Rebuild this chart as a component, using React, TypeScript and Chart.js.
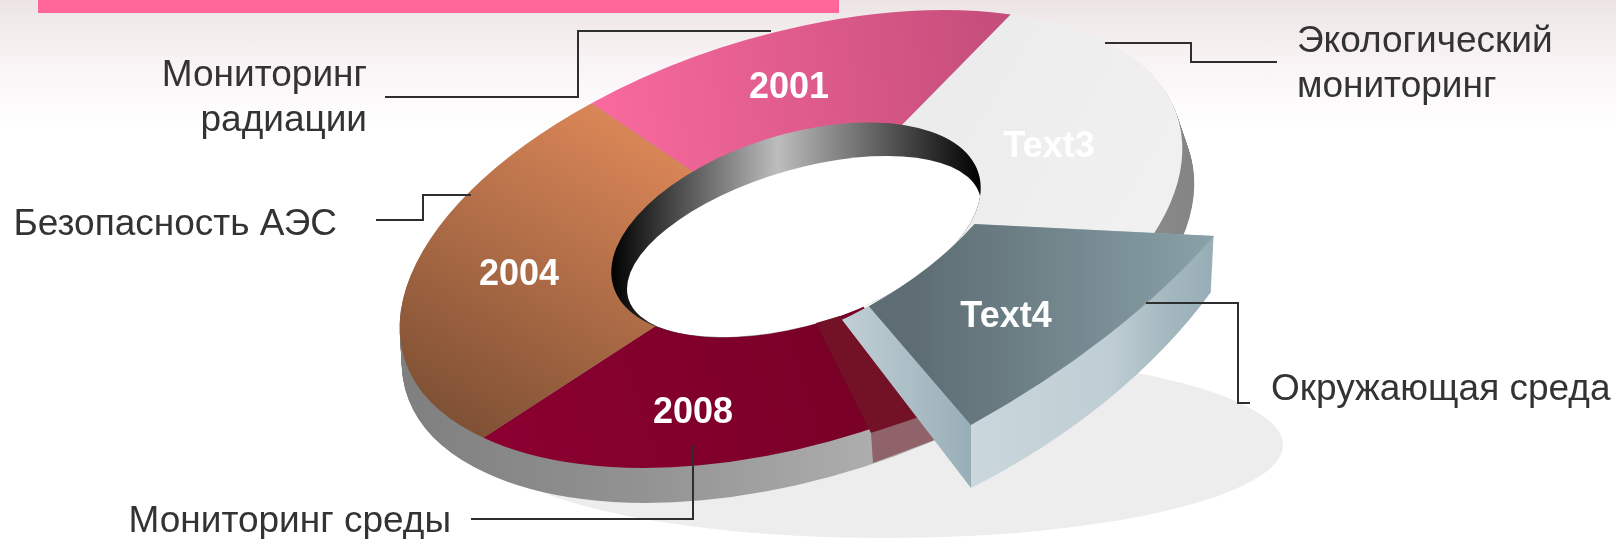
import React, { useEffect, useRef } from "react";
import { Chart, registerables } from "chart.js";

Chart.register(...registerables);

// ---- data (share of the ring, clockwise from the pink slice) ----
const categories = ["2001", "Text3", "Text4", "2008", "2004"];
const shares = [18, 24, 9.6, 21.3, 27.1];
const sliceColors = ["#E25C8C", "#EEEEEE", "#72868D", "#80002B", "#B06B47"];
const EXPLODED = 2;
const FRONT = 3;

// ---- layout ----
const W = 1616;
const H = 539;
const FONT = '"Liberation Sans", Arial, sans-serif';
const TEXT = "#333333";
type M = [number, number, number, number, number, number];
const faceM: M = [386.7, -120.4, 60.2, 193.3, 791, 238];
const frontM: M = [386.7, -118.3, 60.2, 197.2, 791, 238];
const holeM: M = [386.7, -120.4, 60.2, 193.3, 796, 230];
const holeFloorM: M = [177, -42.4, 0, 80, 804, 246.5];
const wedgeTop: M = [515.7, -199.2, 39.8, 276.1, 790.2, 214.7];
const wedgeBottom: M = [540.1, -157.9, 86.1, 360.4, 739, 185.3];
const WALL_DEPTH = 35;
const wallSkew = [0.06, 0.34, 0, 0.06, 0.06];
const HOLE_RATIO = 0.472;
const WEDGE_INNER = 0.435;

const sliceLabels = [
  { text: "2001", x: 789, y: 98 },
  { text: "Text3", x: 1049, y: 157 },
  { text: "Text4", x: 1006, y: 327 },
  { text: "2008", x: 693, y: 423 },
  { text: "2004", x: 519, y: 285 },
];
const callouts = [
  { lines: ["Мониторинг", "радиации"], x: 367, y: 86, align: "right" },
  { lines: ["Экологический", "мониторинг"], x: 1297, y: 52, align: "left" },
  { lines: ["Безопасность АЭС"], x: 337, y: 235, align: "right" },
  { lines: ["Окружающая среда"], x: 1271, y: 400, align: "left" },
  { lines: ["Мониторинг среды"], x: 451, y: 532, align: "right" },
];
const leaders = [
  [[385, 97], [578, 97], [578, 31], [771, 31]],
  [[1105, 43], [1191, 43], [1191, 62], [1277, 62]],
  [[376, 220], [423, 220], [423, 195], [471, 195]],
  [[1146, 303], [1238, 303], [1238, 403], [1250, 403]],
  [[693, 445], [693, 519], [471, 519]],
];

type Stop = [number, string];
const linear = (c: CanvasRenderingContext2D, x0: number, y0: number, x1: number, y1: number, stops: Stop[]) => {
  const g = c.createLinearGradient(x0, y0, x1, y1);
  stops.forEach(([o, col]) => g.addColorStop(o, col));
  return g;
};

const tiltPlugin = {
  id: "tilt3d",
  beforeDatasetsDraw(chart: any) {
    const ctx: CanvasRenderingContext2D = chart.ctx;
    const arcs: any[] = chart.getDatasetMeta(0).data;
    const R: number = arcs[0].outerRadius;
    const cx: number = arcs[0].x;
    const cy: number = arcs[0].y;
    const off = document.createElement("canvas");
    off.width = W;
    off.height = H;
    const o = off.getContext("2d") as CanvasRenderingContext2D;

    const setM = (c: CanvasRenderingContext2D, m: M, dx = 0, dy = 0) =>
      c.setTransform(
        m[0] / R, m[1] / R, m[2] / R, m[3] / R,
        m[4] + dx - (m[0] * cx + m[2] * cy) / R,
        m[5] + dy - (m[1] * cx + m[3] * cy) / R
      );
    const lerpM = (a: M, b: M, t: number) => a.map((v, i) => v + (b[i] - v) * t) as M;
    const sliceM = (i: number) => (i === FRONT ? frontM : faceM);

    // paint library arcs as a mask, then colour the mask in screen space
    const paint = (drawMask: () => void, fill: CanvasGradient | string) => {
      o.setTransform(1, 0, 0, 1, 0, 0);
      o.globalCompositeOperation = "source-over";
      o.clearRect(0, 0, W, H);
      drawMask();
      o.setTransform(1, 0, 0, 1, 0, 0);
      o.globalCompositeOperation = "source-in";
      o.fillStyle = fill;
      o.fillRect(0, 0, W, H);
      ctx.drawImage(off, 0, 0);
    };
    const drawWedge = (m: M) => {
      const a = arcs[EXPLODED];
      const saved = a.innerRadius;
      a.innerRadius = R * WEDGE_INNER;
      setM(o, m);
      a.draw(o);
      a.innerRadius = saved;
    };

    ctx.save();
    ctx.setTransform(1, 0, 0, 1, 0, 0);

    // ground shadow
    ctx.fillStyle = "#EDEDED";
    ctx.beginPath();
    ctx.ellipse(885, 445, 398, 93, 0, 0, Math.PI * 2);
    ctx.fill();

    // outer side wall of the ring
    paint(() => {
      for (let dy = WALL_DEPTH; dy >= 1; dy--) {
        arcs.forEach((a, i) => {
          if (i === EXPLODED) return;
          setM(o, sliceM(i), dy * wallSkew[i], dy);
          a.draw(o);
        });
      }
    }, linear(o, 400, 0, 1195, 0, [
      [0, "#7F7F7F"], [0.3, "#929292"], [0.6, "#AEAEAE"], [0.76, "#A0A0A0"], [1, "#848484"],
    ]));

    // top faces
    const faceFills = [
      linear(o, 590, 110, 1010, 60, [[0, "#FA6A9E"], [1, "#C44D7A"]]),
      linear(o, 900, 60, 1180, 230, [[0, "#EBEBEB"], [1, "#F1F1F1"]]),
      "#000",
      linear(o, 480, 433, 800, 330, [[0, "#8C0031"], [1, "#7B0028"]]),
      linear(o, 625, 100, 440, 420, [[0, "#DF8959"], [1, "#7E5034"]]),
    ];
    arcs.forEach((a, i) => {
      if (i === EXPLODED) return;
      paint(() => { setM(o, sliceM(i)); a.draw(o); }, faceFills[i]);
    });

    // centre hole with its inner wall
    ctx.save();
    setM(ctx, holeM);
    ctx.beginPath();
    ctx.arc(cx, cy, R * HOLE_RATIO, 0, Math.PI * 2);
    ctx.clip();
    ctx.setTransform(1, 0, 0, 1, 0, 0);
    ctx.fillStyle = linear(ctx, 611, 0, 981, 0, [[0, "#000000"], [0.45, "#BDBDBD"], [1, "#000000"]]);
    ctx.fillRect(600, 110, 400, 240);
    setM(ctx, holeFloorM);
    ctx.fillStyle = "#FFFFFF";
    ctx.beginPath();
    ctx.arc(cx, cy, R, 0, Math.PI * 2);
    ctx.fill();
    ctx.restore();

    // cast shadow of the exploded slice
    const poly = (pts: number[][], col: string) => {
      ctx.fillStyle = col;
      ctx.beginPath();
      pts.forEach(([x, y], i) => (i ? ctx.lineTo(x, y) : ctx.moveTo(x, y)));
      ctx.closePath();
      ctx.fill();
    };
    poly([[871, 433], [873, 463], [945, 436], [925, 412]], "#8F6369");
    poly([[816, 323], [871, 433], [925, 415], [880, 340], [840, 316]], "#731227");

    // exploded slice: side walls (none along the inner arc) then top face
    paint(() => {
      for (let k = 60; k >= 0; k--) drawWedge(lerpM(wedgeTop, wedgeBottom, k / 60));
      setM(o, wedgeTop);
      o.globalCompositeOperation = "destination-out";
      o.beginPath();
      o.arc(cx, cy, R * WEDGE_INNER, 0, Math.PI * 2);
      o.fill();
    }, linear(o, 840, 0, 1214, 0, [
      [0, "#C2D0D6"], [0.35, "#98AEB7"], [0.35, "#CAD7DC"], [0.72, "#BFCED4"], [0.88, "#A4B8BF"], [1, "#97ADB5"],
    ]));
    paint(() => drawWedge(wedgeTop), linear(o, 915, 0, 1214, 0, [[0, "#5D6D73"], [1, "#89A1A8"]]));

    ctx.restore();
    return false;
  },
  afterDraw(chart: any) {
    const ctx: CanvasRenderingContext2D = chart.ctx;
    ctx.save();
    ctx.setTransform(1, 0, 0, 1, 0, 0);
    ctx.textBaseline = "alphabetic";

    ctx.strokeStyle = "#2E2E2E";
    ctx.lineWidth = 2;
    leaders.forEach((pts) => {
      ctx.beginPath();
      pts.forEach(([x, y], i) => (i ? ctx.lineTo(x, y) : ctx.moveTo(x, y)));
      ctx.stroke();
    });

    ctx.fillStyle = "#FFFFFF";
    ctx.font = `bold 36px ${FONT}`;
    ctx.textAlign = "center";
    sliceLabels.forEach((l) => ctx.fillText(l.text, l.x, l.y));

    ctx.fillStyle = TEXT;
    ctx.font = `37px ${FONT}`;
    callouts.forEach((c) => {
      ctx.textAlign = c.align as CanvasTextAlign;
      c.lines.forEach((line, i) => ctx.fillText(line, c.x, c.y + i * 44.5));
    });
    ctx.restore();
  },
};

export default function App() {
  const ref = useRef<HTMLCanvasElement>(null);
  useEffect(() => {
    const chart = new Chart(ref.current as HTMLCanvasElement, {
      type: "doughnut",
      data: {
        labels: categories,
        datasets: [{ data: shares, backgroundColor: sliceColors, borderWidth: 0 }],
      },
      options: {
        responsive: false,
        animation: false,
        devicePixelRatio: 1,
        rotation: -21.8,
        cutout: "38%",
        events: [],
        layout: { padding: 0 },
        plugins: { legend: { display: false }, tooltip: { enabled: false } },
      },
      plugins: [tiltPlugin],
    } as any);
    return () => chart.destroy();
  }, []);
  return (
    <div
      style={{
        position: "fixed",
        inset: 0,
        overflow: "hidden",
        background:
          "linear-gradient(to bottom, #ECE4E4 0px, #F4EDEE 35px, #FBF7F8 80px, #FFFFFF 130px)",
      }}
    >
      <div style={{ position: "absolute", left: 38, top: 0, width: 801, height: 13, background: "#FF6699" }} />
      <canvas ref={ref} width={W} height={H} style={{ position: "absolute", left: 0, top: 0, display: "block" }} />
    </div>
  );
}
